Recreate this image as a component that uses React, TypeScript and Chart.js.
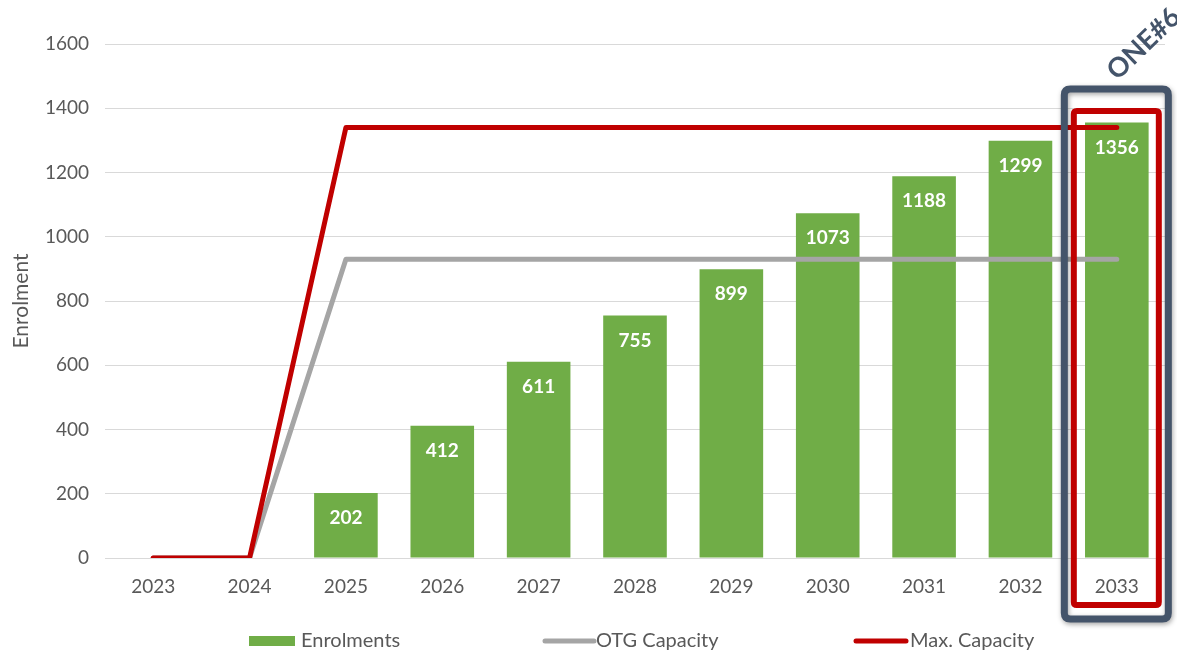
import React, { useEffect, useRef } from "react";
import { Chart, registerables } from "chart.js";

Chart.register(...registerables);

const years = ["2023", "2024", "2025", "2026", "2027", "2028", "2029", "2030", "2031", "2032", "2033"];
const enrolments = [null, null, 202, 412, 611, 755, 899, 1073, 1188, 1299, 1356];
const otgCapacity = [0, 0, 930, 930, 930, 930, 930, 930, 930, 930, 930];
const maxCapacity = [0, 0, 1340, 1340, 1340, 1340, 1340, 1340, 1340, 1340, 1340];
const yTicks = [0, 200, 400, 600, 800, 1000, 1200, 1400, 1600];

const GREEN = "#70AD47";
const GRAY = "#A5A5A5";
const RED = "#C00000";
const SLATE = "#44546A";
const TEXT = "#595959";
const FONT = "Lato, 'Open Sans', sans-serif";

function roundRect(ctx: CanvasRenderingContext2D, x: number, y: number, w: number, h: number, r: number) {
  ctx.beginPath();
  ctx.moveTo(x + r, y);
  ctx.lineTo(x + w - r, y);
  ctx.quadraticCurveTo(x + w, y, x + w, y + r);
  ctx.lineTo(x + w, y + h - r);
  ctx.quadraticCurveTo(x + w, y + h, x + w - r, y + h);
  ctx.lineTo(x + r, y + h);
  ctx.quadraticCurveTo(x, y + h, x, y + h - r);
  ctx.lineTo(x, y + r);
  ctx.quadraticCurveTo(x, y, x + r, y);
  ctx.closePath();
}

const overlayPlugin = {
  id: "overlay",
  afterDatasetsDraw(chart: any) {
    const ctx = chart.ctx as CanvasRenderingContext2D;
    const meta = chart.getDatasetMeta(0);
    ctx.save();
    ctx.fillStyle = "#FFFFFF";
    ctx.font = `bold 19px ${FONT}`;
    ctx.textAlign = "center";
    ctx.textBaseline = "middle";
    meta.data.forEach((bar: any, i: number) => {
      const v = enrolments[i];
      if (v == null) return;
      ctx.fillText(String(v), bar.x, bar.y + 25);
    });
    ctx.restore();
  },
  afterDraw(chart: any) {
    const ctx = chart.ctx as CanvasRenderingContext2D;
    const xs = chart.scales.x;
    const cx = xs.getPixelForValue(years.length - 1);

    // slate highlight box
    ctx.save();
    ctx.shadowColor = "rgba(0,0,0,0.35)";
    ctx.shadowBlur = 5;
    ctx.shadowOffsetX = 1;
    ctx.shadowOffsetY = 2;
    ctx.strokeStyle = SLATE;
    ctx.lineWidth = 7;
    roundRect(ctx, cx - 52.5, 89, 104, 530, 6);
    ctx.stroke();
    ctx.restore();

    // red highlight box
    ctx.save();
    ctx.strokeStyle = RED;
    ctx.lineWidth = 6;
    roundRect(ctx, cx - 43, 111, 85, 494, 3);
    ctx.stroke();
    ctx.restore();

    // ONE#6 label
    ctx.save();
    ctx.translate(cx + 27, 44);
    ctx.rotate(-Math.PI / 4.1);
    ctx.fillStyle = SLATE;
    ctx.font = `bold 27px ${FONT}`;
    ctx.textAlign = "center";
    ctx.textBaseline = "middle";
    ctx.fillText("ONE#6", 0, 0);
    ctx.restore();

    // legend
    ctx.save();
    const ly = 641;
    ctx.font = `20px ${FONT}`;
    ctx.textBaseline = "middle";
    ctx.textAlign = "left";
    ctx.fillStyle = GREEN;
    ctx.fillRect(249, ly - 5, 46, 10);
    ctx.fillStyle = TEXT;
    ctx.fillText("Enrolments", 301, ly);

    ctx.strokeStyle = GRAY;
    ctx.lineWidth = 5;
    ctx.lineCap = "round";
    ctx.beginPath();
    ctx.moveTo(545, ly);
    ctx.lineTo(594, ly);
    ctx.stroke();
    ctx.fillText("OTG Capacity", 596, ly);

    ctx.strokeStyle = RED;
    ctx.beginPath();
    ctx.moveTo(856, ly);
    ctx.lineTo(906, ly);
    ctx.stroke();
    ctx.fillText("Max. Capacity", 910, ly);
    ctx.restore();
  },
};

export default function App() {
  const ref = useRef<HTMLCanvasElement | null>(null);
  useEffect(() => {
    if (!ref.current) return;
    const chart = new Chart(ref.current, {
      type: "bar",
      data: {
        labels: years,
        datasets: [
          {
            type: "bar",
            label: "Enrolments",
            data: enrolments as any,
            backgroundColor: GREEN,
            categoryPercentage: 1,
            barPercentage: 0.66,
            order: 3,
          },
          {
            type: "line",
            label: "OTG Capacity",
            data: otgCapacity,
            borderColor: GRAY,
            borderWidth: 5,
            pointRadius: 0,
            tension: 0,
            borderCapStyle: "round",
            borderJoinStyle: "round",
            order: 2,
          } as any,
          {
            type: "line",
            label: "Max. Capacity",
            data: maxCapacity,
            borderColor: RED,
            borderWidth: 5,
            pointRadius: 0,
            tension: 0,
            borderCapStyle: "round",
            borderJoinStyle: "round",
            order: 1,
          } as any,
        ],
      },
      options: {
        responsive: false,
        animation: false,
        layout: { padding: { left: 0, right: 12, top: 44, bottom: 0 } },
        plugins: {
          legend: { display: false },
          tooltip: { enabled: false },
          title: { display: false },
        },
        scales: {
          x: {
            grid: { display: false, drawTicks: false },
            border: { display: false },
            ticks: { color: TEXT, font: { family: FONT, size: 19 }, padding: 17, maxRotation: 0 },
            afterFit: (s: any) => {
              s.height = 93;
            },
          },
          y: {
            min: 0,
            max: 1600,
            afterBuildTicks: (s: any) => {
              s.ticks = yTicks.map((v) => ({ value: v }));
            },
            grid: { color: "#D9D9D9", lineWidth: 1, drawTicks: false },
            border: { display: false },
            ticks: {
              color: TEXT,
              font: { family: FONT, size: 19 },
              padding: 16,
              callback: (v: any) => String(v),
            },
            title: {
              display: true,
              text: "Enrolment",
              color: TEXT,
              font: { family: FONT, size: 21 },
              padding: { top: 9, bottom: 0 },
            },
            afterFit: (s: any) => {
              s.width = 105;
            },
          },
        },
      },
      plugins: [overlayPlugin],
    });
    return () => chart.destroy();
  }, []);
  return (
    <div style={{ position: "absolute", left: 0, top: 0, width: 1177, height: 651, background: "#fff" }}>
      <canvas ref={ref} width={1177} height={651} />
    </div>
  );
}
